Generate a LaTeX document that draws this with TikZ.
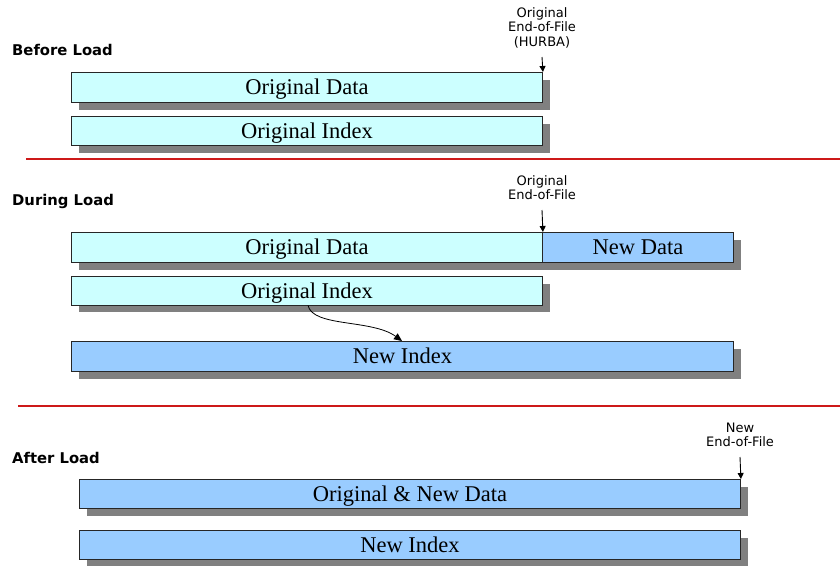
\documentclass[tikz,border=0pt]{standalone}
\usepackage{fontspec}
\setmainfont{Liberation Serif}
\newfontfamily\labfont{DejaVu Sans}
\usetikzlibrary{arrows.meta}
\definecolor{cyanbox}{RGB}{204,255,255}
\definecolor{bluebox}{RGB}{153,204,255}
\definecolor{shadowgray}{RGB}{128,128,128}
\definecolor{sepred}{RGB}{205,25,25}
\tikzset{
  box/.style={draw=black!85, line width=0.9pt, rectangle, anchor=north west, inner sep=0pt,
     text height=15pt, text depth=0pt, font=\fontsize{22.5}{26}\selectfont},
  oldbox/.style={box, fill=cyanbox},
  newbox/.style={box, fill=bluebox},
  shade/.style={fill=shadowgray},
  heading/.style={font=\labfont\bfseries\fontsize{14.8}{17}\selectfont, anchor=west, inner sep=0pt},
  eoflab/.style={font=\labfont\fontsize{13}{14.5}\selectfont, align=center, anchor=south, inner sep=0pt},
  eofarrow/.style={-{Triangle[length=6pt,width=6pt]}, line width=0.9pt},
  sep/.style={draw=sepred, line width=1.1pt},
}
\begin{document}
\begin{tikzpicture}[x=1pt,y=-1pt]
\useasboundingbox (0,0) rectangle (840,565);

% ---------------- Before Load ----------------
\node[heading] (hbefore) at (12,50) {Before Load};
\fill[shade] (79,80) rectangle (550,110);
\fill[shade] (79,124) rectangle (550,153);
\node[oldbox, minimum width=471pt, minimum height=29.5pt] (od1) at (71,72) {Original Data};
\node[oldbox, minimum width=471pt, minimum height=29pt] (oi1) at (71,116) {Original Index};
\node[eoflab] (eof1) at (542,48) {Original\\End-of-File\\(HURBA)};
\coordinate (a1) at (542,57);
\draw[eofarrow] (a1) -- (od1.north east);

\coordinate (s1a) at (26,159);
\coordinate (s1b) at (840,159);
\draw[sep] (s1a) -- (s1b);

% ---------------- During Load ----------------
\node[heading] (hduring) at (12,201) {During Load};
\fill[shade] (79,240) rectangle (741,269.5);
\fill[shade] (79,284) rectangle (550,312);
\fill[shade] (79,349) rectangle (741,378.5);
\node[oldbox, minimum width=471pt, minimum height=29.5pt] (od2) at (71,232) {Original Data};
\node[newbox, minimum width=191pt, minimum height=29.5pt] (nd2) at (542,232) {New Data};
\node[oldbox, minimum width=471pt, minimum height=28.5pt] (oi2) at (71,276) {Original Index};
\node[newbox, minimum width=662pt, minimum height=29.5pt] (ni2) at (71,341) {New Index};
\node[eoflab] (eof2) at (542,200) {Original\\End-of-File};
\coordinate (a2) at (542,210);
\draw[eofarrow] (a2) -- (od2.north east);
\draw[-{Triangle[length=8pt,width=7pt]}, line width=0.8pt]
  ([xshift=237pt]oi2.south west) .. controls +(5,22) and +(-30,-22) .. ([xshift=331pt]ni2.north west);

\coordinate (s2a) at (18,406);
\coordinate (s2b) at (840,406);
\draw[sep] (s2a) -- (s2b);

% ---------------- After Load ----------------
\node[heading] (hafter) at (12,458) {After Load};
\fill[shade] (87,487) rectangle (748,516);
\fill[shade] (87,538) rectangle (748,566);
\node[newbox, minimum width=661pt, minimum height=29pt] (ad3) at (79,479) {Original \& New Data};
\node[newbox, minimum width=661pt, minimum height=29pt] (ai3) at (79,530) {New Index};
\node[eoflab] (eof3) at (740,447) {New\\End-of-File};
\coordinate (a3) at (740,457);
\draw[eofarrow] (a3) -- (ad3.north east);
\end{tikzpicture}
\end{document}
